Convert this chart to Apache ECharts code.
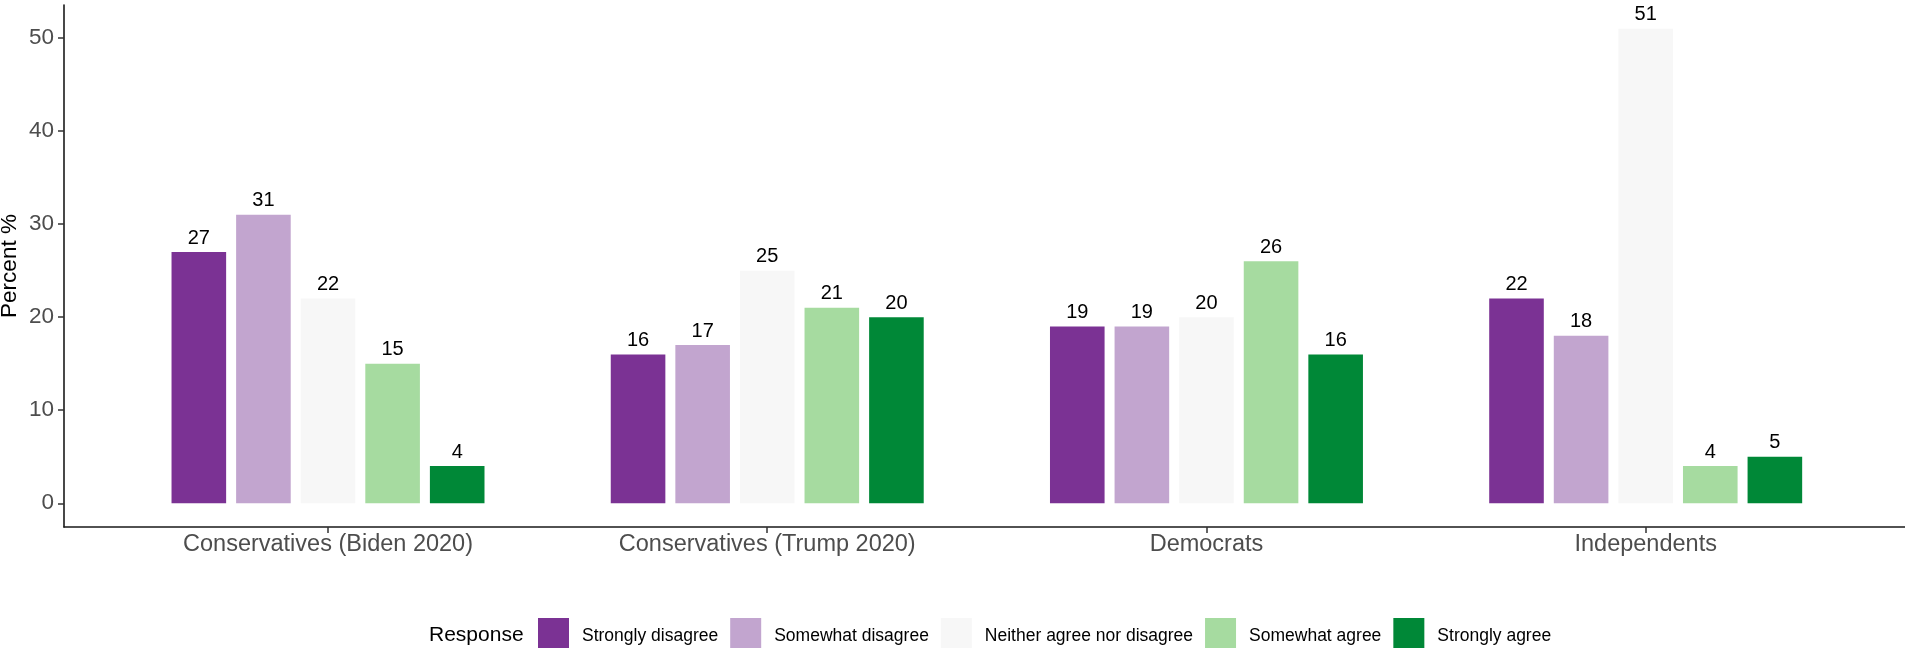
<!DOCTYPE html>
<html>
<head>
<meta charset="utf-8">
<script src="https://cdn.jsdelivr.net/npm/echarts@6/dist/echarts.min.js"></script>
<style>
html,body{margin:0;padding:0;background:#fff;}
#chart{width:1905px;height:648px;}
</style>
</head>
<body>
<div id="chart"></div>
<script>
const categories = ['Conservatives (Biden 2020)', 'Conservatives (Trump 2020)', 'Democrats', 'Independents'];
const responses = ['Strongly disagree', 'Somewhat disagree', 'Neither agree nor disagree', 'Somewhat agree', 'Strongly agree'];
const strongDisagree = [27, 16, 19, 22];
const someDisagree = [31, 17, 19, 18];
const neither = [22, 25, 20, 51];
const someAgree = [15, 21, 26, 4];
const strongAgree = [4, 20, 16, 5];
const yTicks = [0, 10, 20, 30, 40, 50];
const colors = ['#7B3294', '#C2A5CF', '#F7F7F7', '#A6DBA0', '#008837'];

const seriesValues = [strongDisagree, someDisagree, neither, someAgree, strongAgree];
const FONT = '"Liberation Sans", Arial, sans-serif';
const yMin = -2.55, yMax = 53.55;

const chart = echarts.init(document.getElementById('chart'));
const option = {
  animation: false,
  color: colors,
  title: {
    text: 'Response',
    left: 429,
    top: 625,
    padding: 0,
    textStyle: {fontFamily: FONT, fontSize: 21, fontWeight: 'normal', color: '#000'}
  },
  legend: {
    data: responses,
    left: 538,
    top: 618,
    padding: 0,
    itemWidth: 31,
    itemHeight: 36,
    itemGap: 12,
    icon: 'rect',
    textStyle: {fontFamily: FONT, fontSize: 17.5, color: '#000', padding: [0, 0, 0, 8]}
  },
  grid: [
    {left: 108.4, right: 39.7, top: 5, bottom: 121, outerBoundsMode: 'none'},
    {left: 64, right: 0, top: 5, bottom: 121, outerBoundsMode: 'none'}
  ],
  xAxis: [
    {
      type: 'category', gridIndex: 0, data: categories,
      axisLine: {show: false, onZero: false},
      axisTick: {show: true, alignWithLabel: true, length: 6, lineStyle: {color: '#333', width: 1.5}},
      axisLabel: {fontFamily: FONT, fontSize: 23.5, color: '#4D4D4D', margin: 6}
    },
    {
      type: 'value', gridIndex: 1, min: 0, max: 1,
      axisLine: {show: true, onZero: false, lineStyle: {color: '#1a1a1a', width: 1.6}},
      axisTick: {show: false}, axisLabel: {show: false}, splitLine: {show: false}
    }
  ],
  yAxis: [
    {type: 'value', gridIndex: 0, min: yMin, max: yMax, show: false, splitLine: {show: false}},
    {
      type: 'value', gridIndex: 1, min: yMin, max: yMax,
      name: 'Percent %', nameLocation: 'middle', nameRotate: 90, nameGap: 43,
      nameMoveOverlap: false,
      nameTextStyle: {fontFamily: FONT, fontSize: 22.5, color: '#000'},
      axisLine: {show: true, onZero: false, lineStyle: {color: '#1a1a1a', width: 1.6}},
      axisTick: {show: true, length: 6, customValues: yTicks, lineStyle: {color: '#333', width: 1.5}},
      axisLabel: {fontFamily: FONT, fontSize: 22.5, color: '#4D4D4D', margin: 10, customValues: yTicks},
      splitLine: {show: false}
    }
  ],
  series: responses.map((name, i) => ({
    name: name,
    type: 'bar',
    xAxisIndex: 0, yAxisIndex: 0,
    data: seriesValues[i],
    barWidth: 54.6,
    barGap: '18.3%',
    itemStyle: {color: colors[i]},
    label: {show: true, position: 'top', distance: 4, fontFamily: FONT, fontSize: 20, color: '#000'}
  }))
};
chart.setOption(option);
</script>
</body>
</html>
